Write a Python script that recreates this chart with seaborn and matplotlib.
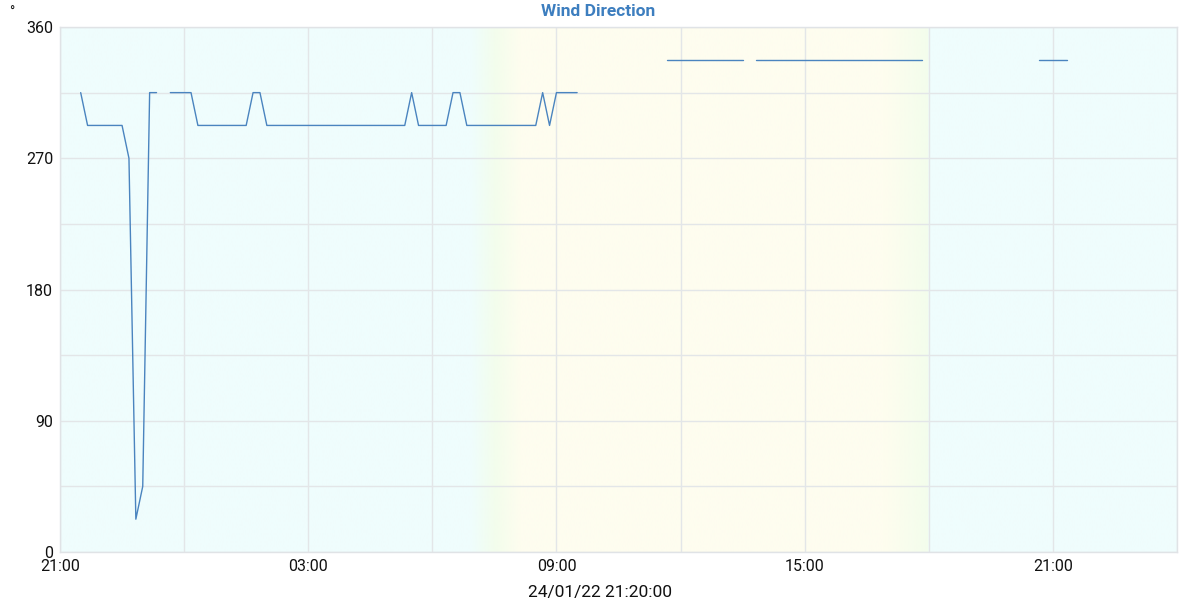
import numpy as np
import pandas as pd
import matplotlib
matplotlib.use("Agg")
import matplotlib.pyplot as plt
import matplotlib.dates as mdates
from matplotlib.colors import to_rgb
import seaborn as sns

# ---- data (None marks a gap in the record) ----
times = [
    "2022-01-23 21:30", "2022-01-23 21:40", "2022-01-23 22:30", "2022-01-23 22:40",
    "2022-01-23 22:50", "2022-01-23 23:00", "2022-01-23 23:10", "2022-01-23 23:20",
    "2022-01-23 23:30",
    "2022-01-23 23:40", "2022-01-24 00:10", "2022-01-24 00:20", "2022-01-24 01:30",
    "2022-01-24 01:40", "2022-01-24 01:50", "2022-01-24 02:00", "2022-01-24 05:20",
    "2022-01-24 05:30", "2022-01-24 05:40", "2022-01-24 06:20", "2022-01-24 06:30",
    "2022-01-24 06:40", "2022-01-24 06:50", "2022-01-24 08:30", "2022-01-24 08:40",
    "2022-01-24 08:50", "2022-01-24 09:00", "2022-01-24 09:30",
    "2022-01-24 09:40",
    "2022-01-24 11:40", "2022-01-24 13:30",
    "2022-01-24 13:40",
    "2022-01-24 13:50", "2022-01-24 17:50",
    "2022-01-24 18:00",
    "2022-01-24 20:40", "2022-01-24 21:20",
]
direction = [
    315, 292.5, 292.5, 270,
    22.5, 45, 315, 315,
    None,
    315, 315, 292.5, 292.5,
    315, 315, 292.5, 292.5,
    315, 292.5, 292.5, 315,
    315, 292.5, 292.5, 315,
    292.5, 315, 315,
    None,
    337.5, 337.5,
    None,
    337.5, 337.5,
    None,
    337.5, 337.5,
]
x_start, x_end = "2022-01-23 21:00", "2022-01-25 00:00"
sunrise_start, sunrise_end = "2022-01-24 06:55", "2022-01-24 08:08"
sunset_start, sunset_end = "2022-01-24 16:55", "2022-01-24 18:00"
y_ticks = [0, 90, 180, 270, 360]
title = "Wind Direction"
x_label = "24/01/22 21:20:00"
unit = "°"

# ---- frame ----
df = pd.DataFrame({"time": pd.to_datetime(times), "dir": pd.array(direction, dtype="Float64").astype(float)})
df["segment"] = df["dir"].isna().cumsum()
df = df.dropna()

sns.set_theme(style="white")
plt.rcParams["font.family"] = ["Roboto", "DejaVu Sans"]

fig = plt.figure(figsize=(12, 6), dpi=100)
ax = fig.add_axes([60 / 1200, 48 / 600, (1177 - 60) / 1200, (552 - 27) / 600])

# ---- day/night background gradient ----
night = np.array(to_rgb("#effdfd"))
green = np.array(to_rgb("#f3fdec"))
day = np.array(to_rgb("#fefdef"))
t0, t1 = mdates.date2num(pd.Timestamp(x_start)), mdates.date2num(pd.Timestamp(x_end))
tt = np.linspace(t0, t1, 2000)
sr0, sr1 = mdates.date2num(pd.Timestamp(sunrise_start)), mdates.date2num(pd.Timestamp(sunrise_end))
ss0, ss1 = mdates.date2num(pd.Timestamp(sunset_start)), mdates.date2num(pd.Timestamp(sunset_end))

def blend(f, a, b, c):
    f = np.clip(f, 0, 1)[:, None]
    first = a + (b - a) * np.clip(f * 2, 0, 1)
    second = b + (c - b) * np.clip(f * 2 - 1, 0, 1)
    return np.where(f < 0.5, first, second)

cols = np.tile(night, (len(tt), 1))
m = (tt >= sr0) & (tt <= sr1)
cols[m] = blend((tt[m] - sr0) / (sr1 - sr0), night, green, day)
m = (tt > sr1) & (tt < ss0)
cols[m] = day
m = (tt >= ss0) & (tt <= ss1)
cols[m] = blend((tt[m] - ss0) / (ss1 - ss0), day, day * 0.5 + green * 0.5, green)
ax.imshow(cols[None, :, :], aspect="auto", extent=[t0, t1, 0, 360], zorder=0, interpolation="bilinear")

# ---- line ----
sns.lineplot(data=df, x="time", y="dir", units="segment", estimator=None,
             color="#4a84bf", linewidth=1.0, ax=ax, zorder=3)

ax.set_xlim(pd.Timestamp(x_start), pd.Timestamp(x_end))
ax.set_ylim(0, 360)

# grid
ax.xaxis.set_major_locator(mdates.HourLocator(byhour=[3, 9, 15, 21]))
ax.xaxis.set_major_formatter(mdates.DateFormatter("%H:%M"))
ax.xaxis.set_minor_locator(mdates.HourLocator(byhour=[0, 6, 12, 18]))
ax.set_yticks(y_ticks)
ax.set_yticks([45, 135, 225, 315], minor=True)
ax.grid(True, which="both", color="#e3e6e8", linewidth=1.0, zorder=1)
for gl in ax.get_xgridlines() + ax.get_ygridlines():
    gl.set_zorder(1)
ax.tick_params(axis="both", which="both", length=0, labelsize=11.5, colors="#111111", pad=5)
for s in ax.spines.values():
    s.set_color("#e0e3e6")
    s.set_linewidth(1.0)

ax.set_xlabel("")
ax.set_ylabel("")
fig.text(600 / 1200, 1 - 593 / 600, x_label, ha="center", va="center", fontsize=12.5, color="#111111")
fig.text(598 / 1200, 1 - 12 / 600, title, ha="center", va="center", fontsize=12.5,
         fontweight="bold", color="#3d7ebf")
fig.text(12 / 1200, 1 - 13 / 600, unit, ha="center", va="center", fontsize=10, color="#111111")

fig.savefig("out.png", dpi=100)
